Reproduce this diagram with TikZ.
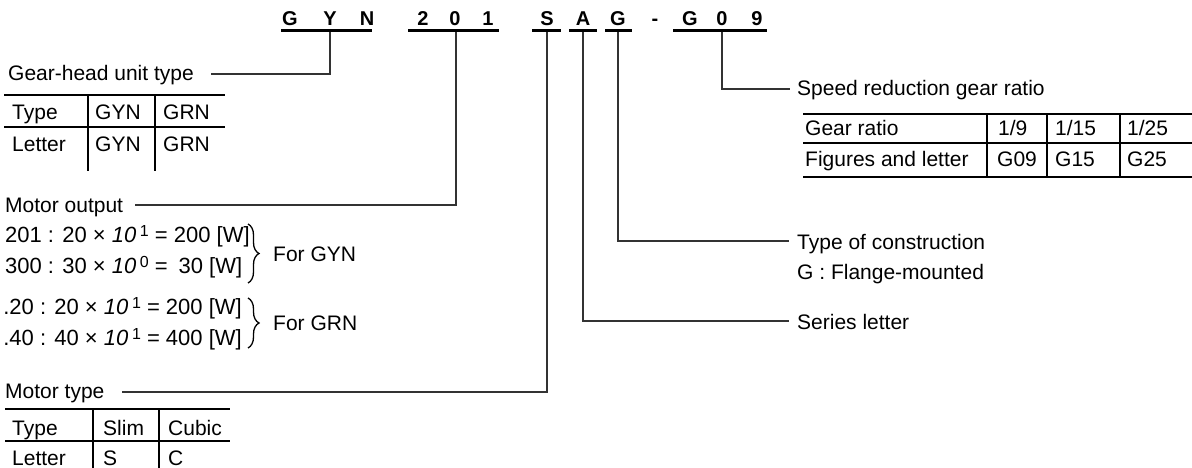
\documentclass[tikz,border=0pt]{standalone}
\usepackage{fontspec}
\setmainfont{Liberation Sans}
\usetikzlibrary{decorations.pathreplacing}
\newcommand\supx[1]{\,\raisebox{6pt}{\fontsize{16}{16}\selectfont #1}}
\begin{document}
\begin{tikzpicture}[x=1pt,y=-1pt,
  txt/.style={anchor=base west,inner sep=0pt,font=\fontsize{21}{25}\selectfont},
  eqw/.style={anchor=base west,inner sep=0pt,font=\fontsize{22}{26}\selectfont},
  eqe/.style={anchor=base east,inner sep=0pt,font=\fontsize{22}{26}\selectfont},
  code/.style={anchor=base,inner sep=0pt,font=\fontsize{20}{24}\selectfont\bfseries},
  uline/.style={line width=3pt},
  conn/.style={line width=1.2pt,draw=black!80},
  rulex/.style={line width=2pt},
  brc/.style={decorate,decoration={brace,amplitude=11pt},line width=1.3pt}]
\useasboundingbox (0,0) rectangle (1192,468);
% code letters
\foreach \n/\x/\t in {c1/290/G,c2/330/Y,c3/367/N,c4/423/2,c5/455/0,c6/488/1,c7/547/S,c8/583/A,c9/618/G,c10/655/-,c11/690/G,c12/722/0,c13/757/9}
  \node[code] (\n) at (\x,26) {\t};
% underlines
\draw[uline] (281,31) -- (372,31);
\draw[uline] (408,31) -- (499,31);
\draw[uline] (532,31) -- (561,31);
\draw[uline] (569,31) -- (597,31);
\draw[uline] (605,31) -- (632,31);
\draw[uline] (673,31) -- (767,31);
\coordinate (uY) at (330,32);
\coordinate (u201) at (456,32);
\coordinate (uS) at (547,32);
\coordinate (uA) at (583,32);
\coordinate (uG) at (618,32);
\coordinate (u09) at (722,32);
% labels
\node[txt] (gear) at (8,81) {Gear-head unit type};
\coordinate (eGear) at (211,74);
\node[txt] (mout) at (5,212) {Motor output};
\coordinate (eMout) at (135,205);
\node[txt] (mtype) at (5,398) {Motor type};
\coordinate (eMtype) at (122,392);
\node[txt] (speed) at (797,96) {Speed reduction gear ratio};
\coordinate (eSpeed) at (790,89);
\node[txt] (cons) at (797,249) {Type of construction};
\node[txt] (flange) at (797,279) {G : Flange-mounted};
\coordinate (eCons) at (789,241);
\node[txt] (series) at (797,329) {Series letter};
\coordinate (eSeries) at (789,321);
% connectors
\draw[conn] (uY) |- (eGear);
\draw[conn] (u201) |- (eMout);
\draw[conn] (uS) |- (eMtype);
\draw[conn] (uA) |- (eSeries);
\draw[conn] (uG) |- (eCons);
\draw[conn] (u09) |- (eSpeed);
% table: gear-head unit type
\draw[rulex] (4,95) -- (225,95);
\draw[rulex] (4,127) -- (225,127);
\draw[rulex] (88,95) -- (88,171);
\draw[rulex] (155,95) -- (155,171);
\node[txt] (t1a) at (12,120) {Type};
\node[txt] (t1b) at (95,120) {GYN};
\node[txt] (t1c) at (163,120) {GRN};
\node[txt] (t1d) at (12,152) {Letter};
\node[txt] (t1e) at (95,152) {GYN};
\node[txt] (t1f) at (163,152) {GRN};
% motor output formulas
\node[eqw] (f1) at (5,242) {\makebox[237pt][l]{201 : 20 × \textit{10}\supx{1} = 200 [W]}};
\node[eqw] (f2) at (5,273) {\makebox[237pt][l]{300 : 30 × \textit{10}\supx{0} =\hfill 30 [W]}};
\node[eqe] (f3) at (242,314) {.20 : 20 × \textit{10}\supx{1} = 200 [W]};
\node[eqe] (f4) at (242,345) {.40 : 40 × \textit{10}\supx{1} = 400 [W]};
\coordinate (b1t) at (248,224);
\coordinate (b1b) at (248,283);
\coordinate (b2t) at (248,298);
\coordinate (b2b) at (248,348);
\draw[brc] (b1t) -- (b1b);
\draw[brc] (b2t) -- (b2b);
\node[txt] (gyn) at (273,261) {For GYN};
\node[txt] (grn) at (273,330) {For GRN};
% table: motor type
\draw[rulex] (5,409) -- (230,409);
\draw[rulex] (5,441) -- (230,441);
\draw[rulex] (93,409) -- (93,468);
\draw[rulex] (159,409) -- (159,468);
\node[txt] (t3a) at (12,435) {Type};
\node[txt] (t3b) at (103,435) {Slim};
\node[txt] (t3c) at (168,435) {Cubic};
\node[txt] (t3d) at (12,465) {Letter};
\node[txt] (t3e) at (103,465) {S};
\node[txt] (t3f) at (168,465) {C};
% table: gear ratio
\draw[rulex] (803,114) -- (1192,114);
\draw[rulex] (803,143) -- (1192,143);
\draw[rulex] (803,177) -- (1192,177);
\draw[rulex] (987,114) -- (987,177);
\draw[rulex] (1047,114) -- (1047,177);
\draw[rulex] (1120,114) -- (1120,177);
\node[txt] (t2a) at (805,136) {Gear ratio};
\node[txt] (t2b) at (998,136) {1/9};
\node[txt] (t2c) at (1055,136) {1/15};
\node[txt] (t2d) at (1127,136) {1/25};
\node[txt] (t2e) at (805,167) {Figures and letter};
\node[txt] (t2f) at (997,167) {G09};
\node[txt] (t2g) at (1055,167) {G15};
\node[txt] (t2h) at (1127,167) {G25};
\end{tikzpicture}
\end{document}
